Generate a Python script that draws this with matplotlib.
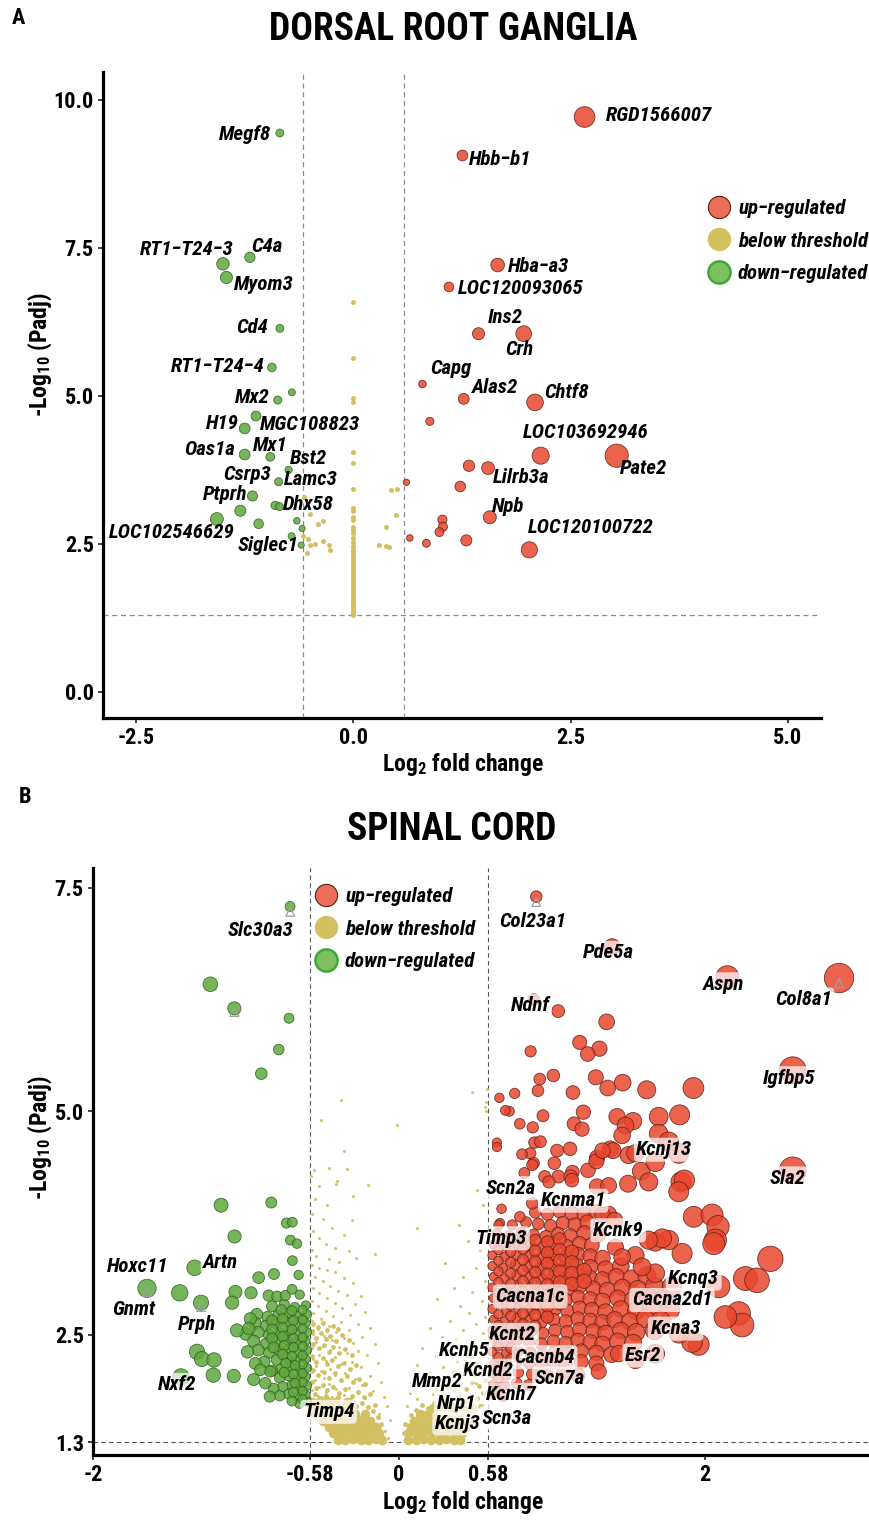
import numpy as np
import matplotlib
matplotlib.use('Agg')
import matplotlib.pyplot as plt
from matplotlib.lines import Line2D

# condensed bold sans, close to the Arial Narrow of the original
FAMILY = ['Roboto Condensed', 'Liberation Sans', 'DejaVu Sans']
plt.rcParams['font.family'] = FAMILY
plt.rcParams['font.weight'] = 'bold'
plt.rcParams['mathtext.fontset'] = 'custom'
plt.rcParams['mathtext.rm'] = 'Roboto Condensed:bold'
plt.rcParams['mathtext.default'] = 'rm'
plt.rcParams['axes.unicode_minus'] = False

M = '\u2212'

# ---------------- panel A : dorsal root ganglia ----------------
a_up = [(2.66, 9.71), (1.255, 9.06), (1.66, 7.21), (1.10, 6.84), (1.44, 6.05),
        (1.96, 6.05), (0.795, 5.20), (1.27, 4.95), (2.09, 4.89), (0.88, 4.57),
        (2.155, 3.99), (3.03, 3.99), (1.33, 3.82), (1.55, 3.78), (0.61, 3.54),
        (1.23, 3.47), (1.57, 2.95), (1.025, 2.91), (1.03, 2.79), (0.99, 2.70),
        (0.65, 2.60), (0.84, 2.51), (1.30, 2.56), (2.025, 2.40)]
a_down = [(-0.846, 9.44), (-1.19, 7.34), (-1.50, 7.23), (-1.46, 7.00), (-0.845, 6.14),
          (-0.937, 5.48), (-0.707, 5.06), (-0.87, 4.93), (-1.12, 4.66), (-1.25, 4.45),
          (-1.25, 4.01), (-0.956, 3.97), (-0.745, 3.75), (-0.86, 3.55), (-1.16, 3.31),
          (-1.30, 3.06), (-0.90, 3.15), (-0.85, 3.13), (-1.57, 2.92), (-1.09, 2.84),
          (-0.65, 2.89), (-0.59, 2.76), (-0.71, 2.63), (-0.60, 2.48)]
a_ns_col_y = [6.59, 5.64, 4.96, 4.90, 4.06, 3.86, 3.43, 3.10, 3.05, 2.96, 2.91, 2.79,
              2.74, 2.68, 2.60, 2.54, 2.46, 2.42, 2.38, 2.35, 2.31, 2.27, 2.24, 2.20,
              2.16, 2.12, 2.09, 2.05, 2.01, 1.97, 1.94, 1.90, 1.86, 1.82, 1.79, 1.75,
              1.71, 1.67, 1.64, 1.60, 1.56, 1.52, 1.49, 1.45, 1.41, 1.37, 1.34, 1.30]
a_ns_other = [(-0.565, 3.29), (-0.50, 3.00), (-0.41, 2.84), (-0.35, 2.88), (-0.575, 2.64),
              (-0.52, 2.58), (-0.50, 2.49), (-0.44, 2.50), (-0.35, 2.55), (-0.28, 2.48),
              (-0.27, 2.40), (-0.53, 2.35), (0.43, 3.41), (0.50, 3.43), (0.485, 2.98),
              (0.38, 2.79), (0.30, 2.49), (0.38, 2.47), (0.41, 2.44)]

a_genes = ['Megf8', 'RT1' + M + 'T24' + M + '3', 'C4a', 'Myom3', 'Cd4',
           'RT1' + M + 'T24' + M + '4', 'Mx2', 'H19', 'MGC108823', 'Oas1a', 'Mx1',
           'Bst2', 'Csrp3', 'Lamc3', 'Ptprh', 'Dhx58', 'LOC102546629', 'Siglec1',
           'RGD1566007', 'Hbb' + M + 'b1', 'Hba' + M + 'a3', 'LOC120093065', 'Ins2',
           'Crh', 'Capg', 'Alas2', 'Chtf8', 'LOC103692946', 'Pate2', 'Lilrb3a', 'Npb',
           'LOC120100722']
a_label_pos = [(-1.247, 9.41), (-1.92, 7.48), (-1.0, 7.53), (-1.034, 6.875), (-1.167, 6.15),
               (-1.557, 5.49), (-1.161, 4.97), (-1.506, 4.54), (-0.5, 4.51), (-1.655, 4.09),
               (-0.954, 4.17), (-0.517, 3.94), (-1.218, 3.68), (-0.489, 3.58), (-1.471, 3.33),
               (-0.517, 3.16), (-2.086, 2.70), (-0.977, 2.48), (3.517, 9.73), (1.69, 8.99),
               (2.132, 7.18), (1.931, 6.81), (1.747, 6.33), (1.908, 5.78), (1.121, 5.47),
               (1.626, 5.15), (2.448, 5.05), (2.672, 4.375), (3.333, 3.78), (1.931, 3.63),
               (1.782, 3.125), (2.73, 2.77)]

# ---------------- panel B : spinal cord ----------------
b_up_sparse = [(0.897, 7.40), (1.392, 6.84), (2.146, 6.50), (2.876, 6.49), (0.88, 6.25),
               (1.04, 6.12), (2.573, 5.46), (2.573, 4.34), (1.357, 6.00), (1.181, 5.77),
               (1.31, 5.70), (1.233, 5.64), (0.86, 5.67), (1.009, 5.40), (0.92, 5.36),
               (0.908, 5.23), (0.756, 5.20), (0.656, 5.15), (1.137, 5.21), (1.286, 5.38),
               (1.364, 5.26), (1.462, 5.32), (1.619, 5.24), (1.924, 5.26), (0.721, 5.00),
               (0.941, 4.95), (0.874, 4.82), (0.789, 4.86), (1.205, 4.99), (1.144, 4.86),
               (1.196, 4.80), (1.425, 4.94), (1.53, 4.89), (1.48, 4.84), (1.697, 4.94),
               (1.834, 4.96), (1.458, 4.73), (1.697, 4.75), (1.763, 4.66), (0.885, 4.65),
               (0.924, 4.66), (0.64, 4.65), (0.64, 4.60), (0.695, 5.01), (1.033, 4.56),
               (1.118, 4.58), (0.858, 4.53), (0.804, 4.52), (0.88, 4.42), (0.871, 4.40),
               (1.015, 4.42), (0.819, 4.31), (0.952, 4.27), (1.041, 4.27), (1.133, 4.32),
               (1.122, 4.27), (1.235, 4.34), (1.294, 4.48), (1.29, 4.44), (1.381, 4.58),
               (1.399, 4.56), (1.50, 4.51), (1.583, 4.33), (1.675, 4.43), (1.632, 4.21),
               (1.497, 4.19), (1.294, 4.16), (1.843, 4.21), (1.865, 4.23), (1.828, 4.10),
               (1.926, 3.82), (2.046, 3.84), (2.085, 3.71), (2.068, 3.56), (2.057, 3.52),
               (2.427, 3.35), (2.264, 3.13), (2.34, 3.11), (2.22, 2.74), (2.242, 2.61),
               (2.133, 2.70), (1.958, 2.39), (1.915, 2.42), (1.85, 3.41), (1.763, 3.56),
               (1.675, 3.54), (1.545, 3.39), (1.414, 3.48), (1.458, 3.37), (0.67, 3.91),
               (0.79, 3.82), (0.65, 3.73), (0.87, 3.97), (1.33, 3.84), (1.41, 3.78),
               (1.72, 3.58), (1.63, 3.56), (1.33, 4.56), (0.98, 4.21), (1.37, 4.17),
               (1.13, 4.23), (1.545, 4.53), (1.828, 4.53), (1.675, 3.19), (1.588, 3.26),
               (1.784, 3.04), (2.09, 3.04), (1.67, 2.55), (1.83, 2.52), (1.436, 2.29),
               (1.545, 2.22), (1.675, 2.29), (1.305, 2.09)]
b_up_dense = [
    (0.89, 3.87), (0.97, 3.85), (1.05, 3.88), (1.13, 3.86), (1.21, 3.85), (1.29, 3.87), (1.37, 3.85),
    (0.66, 3.75), (0.74, 3.73), (0.83, 3.76), (0.91, 3.74), (0.99, 3.72), (1.07, 3.75), (1.15, 3.73),
    (1.23, 3.76), (0.64, 3.63), (0.72, 3.61), (0.80, 3.64), (0.88, 3.62), (0.96, 3.60), (1.04, 3.63),
    (1.12, 3.61), (1.21, 3.64), (1.30, 3.62), (0.62, 3.51), (0.70, 3.49), (0.78, 3.52), (0.86, 3.50),
    (0.94, 3.48), (1.02, 3.51), (1.10, 3.49), (1.18, 3.52), (1.26, 3.50), (0.61, 3.39), (0.69, 3.37),
    (0.77, 3.40), (0.85, 3.38), (0.93, 3.36), (1.01, 3.39), (1.09, 3.37), (1.17, 3.40), (1.25, 3.38),
    (1.33, 3.36), (0.61, 3.27), (0.68, 3.25), (0.76, 3.28), (0.84, 3.26), (0.92, 3.24), (1.00, 3.27),
    (1.08, 3.25), (1.16, 3.28), (1.25, 3.26), (1.35, 3.24), (1.45, 3.27), (0.62, 3.15), (0.69, 3.13),
    (0.77, 3.16), (0.85, 3.14), (0.93, 3.12), (1.01, 3.15), (1.09, 3.13), (1.17, 3.16), (1.25, 3.14),
    (1.33, 3.12), (1.42, 3.15), (1.52, 3.13), (1.62, 3.16), (0.61, 3.03), (0.70, 3.01), (0.78, 3.04),
    (0.86, 3.02), (0.94, 3.00), (1.02, 3.03), (1.10, 3.01), (1.18, 3.04), (1.27, 3.02), (1.36, 3.00),
    (1.46, 3.03), (1.56, 3.01), (1.67, 3.04), (0.62, 2.91), (0.69, 2.89), (0.77, 2.92), (0.85, 2.90),
    (0.93, 2.88), (1.01, 2.91), (1.09, 2.89), (1.17, 2.92), (1.25, 2.90), (1.33, 2.88), (1.43, 2.91),
    (1.53, 2.89), (1.63, 2.92), (1.73, 2.90), (0.61, 2.79), (0.70, 2.77), (0.78, 2.80), (0.86, 2.78),
    (0.94, 2.76), (1.02, 2.79), (1.10, 2.77), (1.18, 2.80), (1.26, 2.78), (1.35, 2.76), (1.45, 2.79),
    (1.55, 2.77), (1.65, 2.80), (1.77, 2.78), (0.62, 2.67), (0.69, 2.65), (0.77, 2.68), (0.85, 2.66),
    (0.93, 2.64), (1.01, 2.67), (1.09, 2.65), (1.17, 2.68), (1.25, 2.66), (1.33, 2.64), (1.41, 2.67),
    (1.51, 2.65), (1.61, 2.68), (1.71, 2.66), (0.61, 2.55), (0.70, 2.53), (0.78, 2.56), (0.86, 2.54),
    (0.94, 2.52), (1.02, 2.55), (1.10, 2.53), (1.18, 2.56), (1.27, 2.54), (1.35, 2.52), (1.45, 2.55),
    (1.55, 2.53), (0.62, 2.43), (0.69, 2.41), (0.77, 2.44), (0.85, 2.42), (0.93, 2.40), (1.01, 2.43),
    (1.09, 2.41), (1.17, 2.44), (1.25, 2.42), (1.33, 2.40), (1.43, 2.43), (1.53, 2.41), (0.61, 2.31),
    (0.70, 2.29), (0.78, 2.32), (0.86, 2.30), (0.94, 2.28), (1.02, 2.31), (1.10, 2.29), (1.19, 2.32),
    (1.29, 2.30), (1.39, 2.28), (0.62, 2.19), (0.69, 2.17), (0.77, 2.20), (0.85, 2.18), (0.93, 2.16),
    (1.01, 2.19), (1.09, 2.17), (1.19, 2.20), (1.29, 2.18), (0.61, 2.07), (0.70, 2.05), (0.78, 2.08),
    (0.87, 2.06), (0.97, 2.04), (1.07, 2.07), (1.17, 2.05), (0.62, 1.95), (0.69, 1.93), (0.77, 1.96),
    (0.85, 1.94), (0.61, 1.83), (0.68, 1.81),
    (0.65, 3.57), (0.73, 3.55), (0.81, 3.58), (0.89, 3.56), (0.97, 3.54), (1.05, 3.57),
    (0.65, 3.45), (0.73, 3.43), (0.81, 3.46), (0.89, 3.44), (0.97, 3.42), (1.05, 3.45), (1.13, 3.43),
    (0.65, 3.33), (0.73, 3.31), (0.81, 3.34), (0.89, 3.32), (0.97, 3.30), (1.05, 3.33), (1.13, 3.31),
    (0.65, 3.21), (0.73, 3.19), (0.81, 3.22), (0.89, 3.20), (0.97, 3.18), (1.05, 3.21), (1.13, 3.19),
    (1.21, 3.22), (0.65, 3.09), (0.73, 3.07), (0.81, 3.10), (0.89, 3.08), (0.97, 3.06), (1.05, 3.09),
    (1.13, 3.07), (1.21, 3.10), (0.65, 2.97), (0.73, 2.95), (0.81, 2.98), (0.89, 2.96), (0.97, 2.94),
    (1.05, 2.97), (0.65, 2.85), (0.73, 2.83), (0.81, 2.86), (0.89, 2.84), (0.97, 2.82), (1.05, 2.85),
    (0.65, 2.73), (0.73, 2.71), (0.81, 2.74), (0.89, 2.72), (0.97, 2.70), (0.65, 2.61), (0.73, 2.59),
    (0.81, 2.62), (0.89, 2.60), (0.65, 2.49), (0.73, 2.47), (0.81, 2.50), (0.65, 2.37), (0.73, 2.35),
    (0.65, 2.25), (0.73, 2.23), (0.65, 2.13), (0.65, 2.01), (0.64, 1.89)]
b_down_sparse = [(-0.712, 7.29), (-1.233, 6.42), (-1.076, 6.15), (-0.719, 6.04), (-0.786, 5.69),
                 (-0.90, 5.42), (-1.647, 3.02), (-1.433, 2.97), (-1.336, 3.25), (-1.294, 2.86),
                 (-1.163, 3.95), (-0.835, 3.98), (-1.075, 3.60), (-0.736, 3.75), (-0.697, 3.76),
                 (-0.71, 3.56), (-0.667, 3.52), (-0.697, 3.33), (-0.817, 3.18), (-0.917, 3.14),
                 (-0.656, 3.17), (-1.069, 2.98), (-0.967, 2.97), (-1.091, 2.86), (-0.852, 2.94),
                 (-0.797, 2.93), (-0.743, 2.94), (-0.699, 3.01), (-0.649, 2.95), (-1.059, 2.55),
                 (-0.972, 2.68), (-0.982, 2.57), (-1.32, 2.31), (-1.288, 2.23), (-1.209, 2.22),
                 (-1.214, 2.05), (-1.08, 2.04), (-1.425, 2.03), (-0.939, 2.18), (-0.906, 2.11),
                 (-0.841, 2.09), (-0.874, 1.96), (-0.845, 1.81)]
b_down_dense = [
    (-0.61, 2.83), (-0.68, 2.81), (-0.75, 2.84), (-0.83, 2.82), (-0.60, 2.73), (-0.66, 2.71),
    (-0.72, 2.74), (-0.79, 2.72), (-0.86, 2.70), (-0.93, 2.73), (-0.61, 2.63), (-0.67, 2.61),
    (-0.73, 2.64), (-0.80, 2.62), (-0.87, 2.60), (-0.94, 2.63), (-0.60, 2.53), (-0.66, 2.51),
    (-0.72, 2.54), (-0.78, 2.52), (-0.85, 2.50), (-0.92, 2.53), (-1.00, 2.51), (-0.61, 2.43),
    (-0.67, 2.41), (-0.73, 2.44), (-0.80, 2.42), (-0.87, 2.40), (-0.95, 2.43), (-0.60, 2.33),
    (-0.66, 2.31), (-0.72, 2.34), (-0.78, 2.32), (-0.85, 2.30), (-0.92, 2.33), (-0.99, 2.31),
    (-0.61, 2.23), (-0.67, 2.21), (-0.73, 2.24), (-0.80, 2.22), (-0.88, 2.20), (-0.60, 2.13),
    (-0.65, 2.11), (-0.71, 2.14), (-0.77, 2.12), (-0.83, 2.10), (-0.61, 2.03), (-0.66, 2.01),
    (-0.72, 2.04), (-0.78, 2.02), (-0.95, 2.00), (-0.60, 1.93), (-0.65, 1.91), (-0.70, 1.94),
    (-0.76, 1.92), (-0.82, 1.90), (-0.61, 1.83), (-0.66, 1.81), (-0.72, 1.84), (-0.78, 1.82),
    (-0.60, 1.75), (-0.65, 1.73), (-0.70, 1.76),
    (-0.63, 2.78), (-0.70, 2.77), (-0.77, 2.78), (-0.63, 2.67), (-0.69, 2.66), (-0.76, 2.68),
    (-0.83, 2.66), (-0.63, 2.57), (-0.70, 2.56), (-0.76, 2.58), (-0.83, 2.56), (-0.63, 2.47),
    (-0.69, 2.46), (-0.76, 2.48), (-0.83, 2.46), (-0.63, 2.37), (-0.69, 2.36), (-0.75, 2.38),
    (-0.82, 2.36), (-0.63, 2.27), (-0.70, 2.26), (-0.76, 2.28), (-0.63, 2.17), (-0.68, 2.16),
    (-0.74, 2.18), (-0.63, 2.07), (-0.69, 2.06), (-0.75, 2.08), (-0.63, 1.97), (-0.68, 1.96),
    (-0.63, 1.87), (-0.69, 1.86), (-0.63, 1.78)]
b_ns_left = [
    (-0.38, 5.13), (-0.51, 4.90), (-0.01, 4.85), (-0.36, 4.56), (-0.46, 4.37), (-0.556, 4.34),
    (-0.575, 4.28), (-0.34, 4.35), (-0.405, 4.22), (-0.41, 4.19), (-0.525, 4.16), (-0.20, 4.18),
    (-0.30, 4.05), (-0.55, 4.02), (-0.47, 3.95), (-0.57, 3.85), (-0.50, 3.80), (-0.31, 3.78),
    (-0.44, 3.70), (-0.56, 3.66), (-0.36, 3.62), (-0.52, 3.58), (-0.48, 3.52), (-0.42, 3.47),
    (-0.57, 3.45), (-0.33, 3.44), (-0.54, 3.38), (-0.46, 3.35), (-0.39, 3.32), (-0.28, 3.36),
    (-0.16, 3.40), (-0.57, 3.28), (-0.52, 3.25), (-0.47, 3.22), (-0.42, 3.20), (-0.55, 3.15),
    (-0.36, 3.14), (-0.50, 3.10), (-0.30, 3.08), (-0.45, 3.05), (-0.56, 3.02), (-0.40, 2.99),
    (-0.52, 2.97), (-0.34, 2.95), (-0.25, 2.93), (-0.47, 2.91), (-0.57, 2.88), (-0.42, 2.86),
    (-0.29, 2.84), (-0.53, 2.82), (-0.37, 2.80), (-0.48, 2.77), (-0.22, 2.76), (-0.56, 2.74),
    (-0.32, 2.72), (-0.43, 2.71), (-0.51, 2.68), (-0.57, 2.65), (-0.38, 2.64), (-0.27, 2.62),
    (-0.46, 2.60), (-0.53, 2.57), (-0.19, 2.58), (-0.33, 2.55), (-0.41, 2.53), (-0.56, 2.51),
    (-0.49, 2.49), (-0.24, 2.48), (-0.36, 2.46), (-0.44, 2.44), (-0.54, 2.42), (-0.30, 2.41),
    (-0.16, 2.40), (-0.50, 2.38), (-0.39, 2.36), (-0.57, 2.35), (-0.45, 2.33), (-0.27, 2.32),
    (-0.34, 2.30), (-0.52, 2.28), (-0.21, 2.27), (-0.42, 2.25), (-0.56, 2.23), (-0.48, 2.21),
    (-0.31, 2.20), (-0.14, 2.19), (-0.38, 2.17), (-0.54, 2.15), (-0.25, 2.14), (-0.45, 2.12),
    (-0.51, 2.10), (-0.57, 2.08), (-0.35, 2.07), (-0.42, 2.05), (-0.19, 2.04), (-0.49, 2.02),
    (-0.29, 2.01), (-0.55, 1.99), (-0.38, 1.98), (-0.12, 1.97), (-0.46, 1.95), (-0.24, 1.94),
    (-0.52, 1.92), (-0.33, 1.91), (-0.41, 1.89), (-0.57, 1.88), (-0.17, 1.87), (-0.48, 1.86),
    (-0.27, 1.85), (-0.36, 1.83), (-0.53, 1.82), (-0.44, 1.80), (-0.10, 1.81), (-0.22, 1.79),
    (-0.08, 1.70), (-0.06, 1.55), (-0.09, 1.42), (-0.07, 1.35), (-0.13, 1.62)]
b_ns_left_mid = [
    (-0.56, 2.62), (-0.53, 2.59), (-0.50, 2.63), (-0.47, 2.56), (-0.43, 2.60), (-0.40, 2.57),
    (-0.57, 2.54), (-0.54, 2.47), (-0.51, 2.52), (-0.48, 2.45), (-0.45, 2.49), (-0.41, 2.43),
    (-0.37, 2.50), (-0.33, 2.44), (-0.56, 2.40), (-0.52, 2.35), (-0.49, 2.39), (-0.46, 2.31),
    (-0.43, 2.37), (-0.39, 2.30), (-0.35, 2.34), (-0.31, 2.27), (-0.57, 2.26), (-0.54, 2.20),
    (-0.50, 2.24), (-0.47, 2.17), (-0.44, 2.22), (-0.40, 2.15), (-0.36, 2.19), (-0.32, 2.12),
    (-0.28, 2.16), (-0.56, 2.11), (-0.53, 2.05), (-0.49, 2.09), (-0.46, 2.02), (-0.42, 2.07),
    (-0.38, 2.00), (-0.34, 2.04), (-0.30, 1.97), (-0.26, 2.01), (-0.22, 1.95), (-0.57, 1.97),
    (-0.54, 1.91), (-0.50, 1.94), (-0.47, 1.88), (-0.43, 1.92), (-0.39, 1.85), (-0.35, 1.89),
    (-0.31, 1.82), (-0.27, 1.86), (-0.23, 1.80), (-0.19, 1.84), (-0.55, 1.84), (-0.51, 1.79),
    (-0.48, 1.82), (-0.44, 1.76), (-0.40, 1.80), (-0.36, 1.73), (-0.32, 1.77), (-0.28, 1.71),
    (-0.24, 1.74), (-0.20, 1.69), (-0.16, 1.72), (-0.14, 1.58), (-0.12, 1.50), (-0.17, 1.65)]
b_ns_right = [
    (0.48, 5.22), (0.575, 5.25), (0.57, 5.10), (0.565, 5.05), (0.57, 5.00), (0.12, 3.69),
    (0.39, 3.73), (0.51, 4.12), (0.55, 3.95), (0.45, 3.55), (0.53, 3.45), (0.30, 3.30),
    (0.50, 3.25), (0.42, 3.15), (0.56, 3.10), (0.36, 3.02), (0.48, 2.98), (0.25, 2.90),
    (0.54, 2.88), (0.40, 2.82), (0.46, 2.75), (0.56, 2.70), (0.33, 2.66), (0.50, 2.62),
    (0.20, 2.58), (0.42, 2.55), (0.55, 2.52), (0.28, 2.48), (0.37, 2.45), (0.49, 2.41),
    (0.56, 2.38), (0.15, 2.35), (0.32, 2.33), (0.44, 2.30), (0.24, 2.26), (0.52, 2.24),
    (0.38, 2.21), (0.57, 2.18), (0.12, 2.16), (0.29, 2.14), (0.47, 2.12), (0.20, 2.08),
    (0.35, 2.06), (0.54, 2.04), (0.42, 2.02), (0.09, 2.00), (0.26, 1.98), (0.50, 1.96),
    (0.16, 1.93), (0.33, 1.91), (0.44, 1.89), (0.57, 1.87), (0.07, 1.85), (0.22, 1.84),
    (0.38, 1.82), (0.51, 1.80), (0.12, 1.78), (0.29, 1.76), (0.46, 1.74), (0.05, 1.70),
    (0.55, 1.72)]
b_ns_right_mid = [
    (0.55, 2.28), (0.51, 2.20), (0.47, 2.25), (0.43, 2.16), (0.53, 2.12), (0.49, 2.06),
    (0.45, 2.10), (0.40, 2.04), (0.36, 2.09), (0.56, 1.99), (0.52, 1.93), (0.48, 1.97),
    (0.44, 1.90), (0.40, 1.95), (0.36, 1.88), (0.32, 1.92), (0.28, 1.86), (0.24, 1.90),
    (0.55, 1.85), (0.51, 1.79), (0.47, 1.83), (0.43, 1.76), (0.39, 1.80), (0.35, 1.73),
    (0.31, 1.77), (0.27, 1.70), (0.23, 1.74), (0.19, 1.68), (0.15, 1.72), (0.11, 1.66),
    (0.53, 1.70), (0.49, 1.64), (0.45, 1.67), (0.08, 1.60), (0.04, 1.50), (0.03, 1.40)]
b_ns_core_left = [
    (-0.40, 1.33), (-0.35, 1.33), (-0.30, 1.34), (-0.25, 1.33), (-0.20, 1.33), (-0.15, 1.34), (-0.11, 1.33),
    (-0.43, 1.40), (-0.38, 1.40), (-0.33, 1.41), (-0.28, 1.40), (-0.23, 1.40), (-0.18, 1.41), (-0.13, 1.40),
    (-0.46, 1.47), (-0.41, 1.47), (-0.36, 1.48), (-0.31, 1.47), (-0.26, 1.47), (-0.21, 1.48), (-0.15, 1.47),
    (-0.50, 1.54), (-0.45, 1.54), (-0.40, 1.55), (-0.35, 1.54), (-0.30, 1.54), (-0.25, 1.55), (-0.19, 1.54),
    (-0.55, 1.61), (-0.50, 1.61), (-0.45, 1.62), (-0.40, 1.61), (-0.35, 1.61), (-0.29, 1.62), (-0.22, 1.61),
    (-0.57, 1.68), (-0.52, 1.68), (-0.47, 1.69), (-0.42, 1.68), (-0.37, 1.68), (-0.31, 1.69),
    (-0.57, 1.75), (-0.52, 1.75), (-0.47, 1.76), (-0.41, 1.75), (-0.34, 1.75)]
b_ns_core_right = [
    (0.06, 1.33), (0.11, 1.33), (0.16, 1.34), (0.21, 1.33), (0.26, 1.33), (0.31, 1.34), (0.36, 1.33), (0.40, 1.33),
    (0.06, 1.40), (0.11, 1.40), (0.16, 1.41), (0.21, 1.40), (0.26, 1.40), (0.31, 1.41), (0.36, 1.40), (0.41, 1.40),
    (0.08, 1.47), (0.13, 1.47), (0.18, 1.48), (0.23, 1.47), (0.28, 1.47), (0.33, 1.48), (0.38, 1.47), (0.44, 1.47),
    (0.10, 1.54), (0.15, 1.54), (0.20, 1.55), (0.25, 1.54), (0.30, 1.54), (0.35, 1.55), (0.40, 1.54), (0.46, 1.54),
    (0.14, 1.61), (0.19, 1.61), (0.24, 1.62), (0.29, 1.61), (0.34, 1.61), (0.40, 1.62), (0.46, 1.61),
    (0.22, 1.68), (0.28, 1.68), (0.34, 1.69), (0.41, 1.68), (0.48, 1.68)]
b_flagged = [(-0.711, 7.23), (-1.076, 6.11), (0.897, 7.34), (2.876, 6.43), (-1.647, 2.98),
             (-1.294, 2.81)]

b_genes = ['Slc30a3', 'Col23a1', 'Pde5a', 'Aspn', 'Col8a1', 'Ndnf', 'Igfbp5', 'Kcnj13',
           'Sla2', 'Scn2a', 'Kcnma1', 'Kcnk9', 'Timp3', 'Hoxc11', 'Artn', 'Gnmt', 'Prph',
           'Kcnq3', 'Cacna1c', 'Cacna2d1', 'Kcnt2', 'Kcna3', 'Kcnh5', 'Cacnb4', 'Esr2',
           'Kcnd2', 'Scn7a', 'Nxf2', 'Mmp2', 'Kcnh7', 'Nrp1', 'Timp4', 'Scn3a', 'Kcnj3']
b_label_pos = [(-0.908, 7.02), (0.873, 7.12), (1.366, 6.77), (2.12, 6.42), (2.644, 6.25),
               (0.856, 6.18), (2.552, 5.37), (1.735, 4.57), (2.54, 4.25), (0.73, 4.14),
               (1.138, 4.00), (1.432, 3.67), (0.67, 3.58), (-1.706, 3.26), (-1.165, 3.31),
               (-1.733, 2.78), (-1.317, 2.62), (1.926, 3.13), (0.858, 2.93), (1.784, 2.89),
               (0.744, 2.50), (1.808, 2.57), (0.425, 2.33), (0.952, 2.25), (1.595, 2.27),
               (0.584, 2.10), (1.05, 2.01), (-1.453, 1.94), (0.248, 1.975), (0.731, 1.83),
               (0.374, 1.73), (-0.46, 1.64), (0.703, 1.57), (0.384, 1.51)]

legend_labels = ['up' + M + 'regulated', 'below threshold', 'down' + M + 'regulated']

# ---------------- styling ----------------
UP, DOWN, NS = '#E8472E', '#5EA83C', '#D2C062'
UP_EDGE, DOWN_EDGE = '#5C2018', '#2F5E22'
UP_LEG, DOWN_LEG = '#EC6C58', '#80BE62'
FS_LAB = 15
TXT = dict(fontsize=FS_LAB, fontweight='bold', fontstyle='italic')


def xy(pts):
    return [p[0] for p in pts], [p[1] for p in pts]


def size_a(x):
    return ((2 + 7 * np.abs(np.array(x))) * 0.72) ** 2


def size_b(x):
    return ((3.5 + 9 * np.abs(np.array(x))) * 0.72) ** 2


def style_axes(ax):
    for s in ['top', 'right']:
        ax.spines[s].set_visible(False)
    for s in ['left', 'bottom']:
        ax.spines[s].set_linewidth(2.3)
    ax.tick_params(direction='out', length=3.5, width=1.3, color='#333333',
                   labelsize=16, pad=3)
    for lab in ax.get_xticklabels() + ax.get_yticklabels():
        lab.set_fontweight('bold')


def legend(ax, x0, y0):
    hs = [Line2D([], [], ls='none', marker='o', ms=16, mfc=UP_LEG, mec=UP_EDGE, mew=0.8),
          Line2D([], [], ls='none', marker='o', ms=16, mfc=NS, mec=NS, mew=0.8),
          Line2D([], [], ls='none', marker='o', ms=16, mfc=DOWN_LEG, mec='#3DAA35', mew=1.8)]
    fpx = FS_LAB / 72 * 100
    ax.legend(hs, legend_labels, loc='upper left', bbox_to_anchor=(x0 / 869, 1 - y0 / 1521),
              bbox_transform=fig.transFigure, frameon=False, borderpad=0, borderaxespad=0,
              handlelength=22 / fpx, handletextpad=8 / fpx, labelspacing=0.65,
              prop=dict(size=FS_LAB, style='italic', weight='bold'))


fig = plt.figure(figsize=(8.69, 15.21), dpi=100)

# ---- A ----
axA = fig.add_axes([103 / 869, 803 / 1521, 718 / 869, 646 / 1521])
axA.set_xlim(-2.88, 5.38)
axA.set_ylim(-0.44, 10.47)
for v in (-0.58, 0.58):
    axA.axvline(v, color='#8c8c8c', lw=0.9, ls=(0, (4, 3)), zorder=1)
axA.axhline(1.3, color='#8c8c8c', lw=0.9, ls=(0, (4, 3)), zorder=1)

axA.scatter([0.0] * len(a_ns_col_y), a_ns_col_y, s=13, c=NS, lw=0, zorder=2)
nx, ny = xy(a_ns_other)
axA.scatter(nx, ny, s=13, c=NS, lw=0, zorder=2)
dx, dy = xy(a_down)
axA.scatter(dx, dy, s=size_a(dx), c=DOWN, alpha=0.85, edgecolors=DOWN_EDGE, lw=0.6, zorder=3)
ux, uy = xy(a_up)
axA.scatter(ux, uy, s=size_a(ux), c=UP, alpha=0.85, edgecolors=UP_EDGE, lw=0.6, zorder=3)
for g, (lx, ly) in zip(a_genes, a_label_pos):
    axA.text(lx, ly, g, ha='center', va='center', zorder=5, **TXT)

axA.set_xticks([-2.5, 0.0, 2.5, 5.0])
axA.set_xticklabels(['-2.5', '0.0', '2.5', '5.0'])
axA.set_yticks([0.0, 2.5, 5.0, 7.5, 10.0])
axA.set_yticklabels(['0.0', '2.5', '5.0', '7.5', '10.0'])
style_axes(axA)
legend(axA, 708, 199)

# ---- B ----
axB = fig.add_axes([93 / 869, 66 / 1521, 786 / 869, 587 / 1521])
axB.set_xlim(-2.0, 3.137)
axB.set_ylim(1.157, 7.72)
for v in (-0.58, 0.58):
    axB.axvline(v, color='#555555', lw=0.8, ls=(0, (4, 3)), zorder=1)
axB.axhline(1.3, color='#555555', lw=0.8, ls=(0, (4, 3)), zorder=1)

for pts in (b_ns_left, b_ns_right):
    nx, ny = xy(pts)
    axB.scatter(nx, ny, s=4.5, c=NS, lw=0, zorder=2)
for pts in (b_ns_left_mid, b_ns_right_mid):
    nx, ny = xy(pts)
    axB.scatter(nx, ny, s=12, c=NS, lw=0, zorder=2)
for pts in (b_ns_core_left, b_ns_core_right):
    nx, ny = xy(pts)
    axB.scatter(nx, ny, s=48, c=NS, lw=0, zorder=2)
for pts in (b_down_dense, b_down_sparse):
    dx, dy = xy(pts)
    axB.scatter(dx, dy, s=size_b(dx), c=DOWN, alpha=0.85, edgecolors=DOWN_EDGE,
                lw=0.6, zorder=3)
for pts in (b_up_dense, b_up_sparse):
    ux, uy = xy(pts)
    axB.scatter(ux, uy, s=size_b(ux), c=UP, alpha=0.85, edgecolors=UP_EDGE,
                lw=0.6, zorder=3)
fx, fy = xy(b_flagged)
axB.scatter(fx, fy, s=40, marker='^', facecolors='none', edgecolors='#a0a0a0',
            lw=0.9, zorder=4)
for g, (lx, ly) in zip(b_genes, b_label_pos):
    axB.text(lx, ly, g, ha='center', va='center', zorder=5,
             bbox=dict(boxstyle='round,pad=0.12,rounding_size=0.2', fc='white',
                       ec='none', alpha=0.72), **TXT)

axB.set_xticks([-2, -0.58, 0, 0.58, 2])
axB.set_xticklabels(['-2', '-0.58', '0', '0.58', '2'])
axB.set_yticks([1.3, 2.5, 5.0, 7.5])
axB.set_yticklabels(['1.3', '2.5', '5.0', '7.5'])
style_axes(axB)
legend(axB, 315, 887)

# ---- titles and axis labels ----
fig.text(453 / 869, 1 - 30 / 1521, 'DORSAL ROOT GANGLIA', ha='center', va='center',
         fontsize=27, fontweight='bold')
fig.text(452 / 869, 1 - 830 / 1521, 'SPINAL CORD', ha='center', va='center',
         fontsize=27, fontweight='bold')
fig.text(18 / 869, 1 - 18 / 1521, 'A', ha='center', va='center', fontsize=16, fontweight='bold')
fig.text(25 / 869, 1 - 797 / 1521, 'B', ha='center', va='center', fontsize=16, fontweight='bold')
ylab = r'-Log$_{10}$ (Padj)'
xlab = r'Log$_{2}$ fold change'
fig.text(40 / 869, 1 - 355 / 1521, ylab, rotation=90, ha='center', va='center',
         fontsize=17, fontweight='bold')
fig.text(40 / 869, 1 - 1138 / 1521, ylab, rotation=90, ha='center', va='center',
         fontsize=17, fontweight='bold')
fig.text(463 / 869, 1 - 765 / 1521, xlab, ha='center', va='center', fontsize=17,
         fontweight='bold')
fig.text(463 / 869, 1 - 1503 / 1521, xlab, ha='center', va='center', fontsize=17,
         fontweight='bold')

fig.savefig('out.png', dpi=100)
